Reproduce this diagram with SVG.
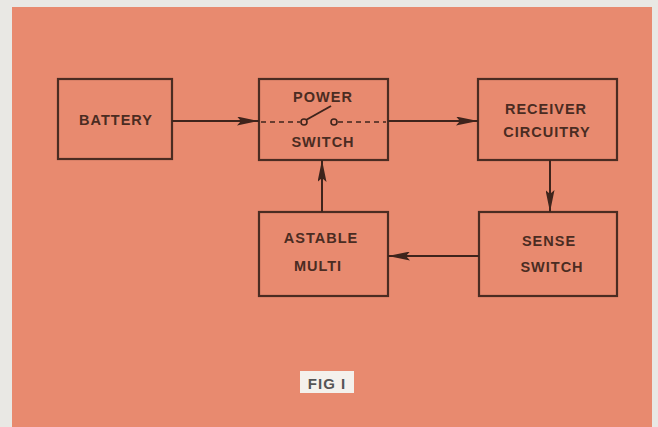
<svg xmlns="http://www.w3.org/2000/svg" width="658" height="427" viewBox="0 0 658 427">
<defs>
<style>
.box{fill:none;stroke:#4a2c22;stroke-width:2.2}
.lbl{font-family:"Liberation Sans",Arial,sans-serif;font-size:14.5px;font-weight:bold;fill:#4a2c22;text-anchor:middle;letter-spacing:1px}
.wire{stroke:#3e241c;stroke-width:2;fill:none}
.dash{stroke:#3e241c;stroke-width:1.6;fill:none;stroke-dasharray:5 4}
</style>
<marker id="ah" viewBox="0 0 22 9" refX="22" refY="4.5" markerWidth="22" markerHeight="9" markerUnits="userSpaceOnUse" orient="auto">
<path d="M0,0 L22,4.5 L0,9 L4,4.5 Z" fill="#3e241c"/>
</marker>
</defs>
<rect x="0" y="0" width="658" height="427" fill="#e9e8e4"/>
<rect x="12" y="7" width="640" height="420" fill="#e88a6f"/>

<g id="battery">
<rect class="box" x="58" y="79" width="114" height="80"/>
<text class="lbl" x="116" y="125">BATTERY</text>
</g>
<g id="power-switch">
<rect class="box" x="259" y="79" width="129" height="81"/>
<text class="lbl" x="323" y="102">POWER</text>
<text class="lbl" x="323" y="147">SWITCH</text>
<path class="dash" d="M261,122 H300"/>
<path class="dash" d="M338,122 H386"/>
<circle cx="304" cy="122" r="3" fill="none" stroke="#3e241c" stroke-width="1.6"/>
<circle cx="334" cy="122" r="3" fill="none" stroke="#3e241c" stroke-width="1.6"/>
<path class="wire" d="M306,120 L331,106" stroke-width="1.6"/>
</g>
<g id="receiver">
<rect class="box" x="478" y="79" width="139" height="81"/>
<text class="lbl" x="546" y="114">RECEIVER</text>
<text class="lbl" x="547" y="137">CIRCUITRY</text>
</g>
<g id="astable">
<rect class="box" x="259" y="212" width="129" height="84"/>
<text class="lbl" x="321" y="243">ASTABLE</text>
<text class="lbl" x="318" y="271">MULTI</text>
</g>
<g id="sense">
<rect class="box" x="479" y="212" width="138" height="84"/>
<text class="lbl" x="549" y="246">SENSE</text>
<text class="lbl" x="552" y="272">SWITCH</text>
</g>
<g id="fig-label">
<rect x="300" y="371" width="54" height="22" fill="#f4f1ec"/>
<text x="327" y="389" font-family="'Liberation Sans',Arial,sans-serif" font-size="15" font-weight="bold" fill="#555" text-anchor="middle" letter-spacing="1">FIG I</text>
</g>
<g id="connectors">
<path class="wire" d="M172,121 H259" marker-end="url(#ah)"/>
<path class="wire" d="M388,121 H478" marker-end="url(#ah)"/>
<path class="wire" d="M550,160 V212" marker-end="url(#ah)"/>
<path class="wire" d="M479,256 H388" marker-end="url(#ah)"/>
<path class="wire" d="M322,212 V160" marker-end="url(#ah)"/>
</g>
</svg>
